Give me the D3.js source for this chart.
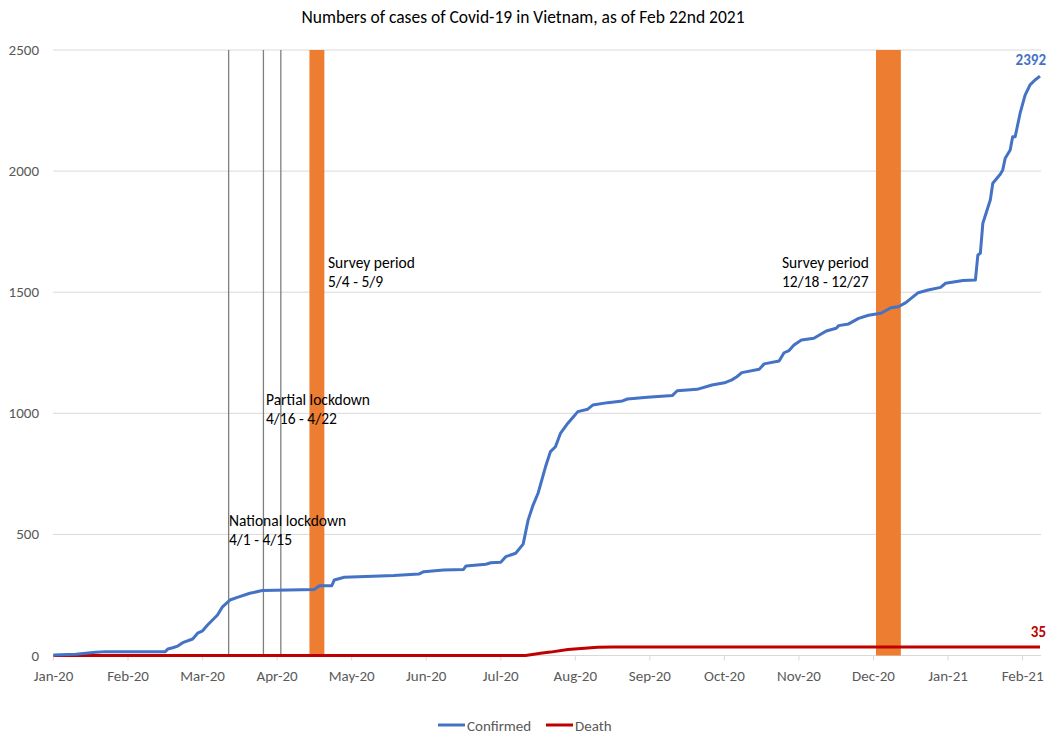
<!DOCTYPE html>
<html>
<head>
<meta charset="utf-8">
<script src="https://cdn.jsdelivr.net/npm/d3@7"></script>
<style>
  body { margin: 0; background: #fff; }
  text { font-family: Carlito, Calibri, "Liberation Sans", sans-serif; }
</style>
</head>
<body>
<svg id="chart" width="1046" height="737"></svg>
<script>
// confirmed cases
const confirmedDates = ['2020-01-22','2020-01-31','2020-02-08','2020-02-12','2020-03-07','2020-03-08','2020-03-10','2020-03-12',
  '2020-03-14','2020-03-18','2020-03-20','2020-03-22','2020-03-24','2020-03-28','2020-03-30','2020-04-02','2020-04-05',
  '2020-04-10','2020-04-15','2020-05-06','2020-05-08','2020-05-13','2020-05-14','2020-05-18','2020-06-07','2020-06-17',
  '2020-06-19','2020-06-27','2020-07-05','2020-07-06','2020-07-14','2020-07-16','2020-07-20','2020-07-22','2020-07-26',
  '2020-07-29','2020-07-31','2020-08-02','2020-08-04','2020-08-07','2020-08-09','2020-08-11','2020-08-13','2020-08-16',
  '2020-08-18','2020-08-20','2020-08-24','2020-08-26','2020-09-01','2020-09-07','2020-09-09','2020-09-17','2020-09-27',
  '2020-09-29','2020-10-07','2020-10-13','2020-10-18','2020-10-21','2020-10-23','2020-10-25','2020-11-01','2020-11-03',
  '2020-11-09','2020-11-11','2020-11-13','2020-11-15','2020-11-18','2020-11-23','2020-11-28','2020-12-02','2020-12-03',
  '2020-12-07','2020-12-11','2020-12-15','2020-12-20','2020-12-24','2020-12-27','2020-12-30','2021-01-04','2021-01-08',
  '2021-01-13','2021-01-15','2021-01-22','2021-01-27','2021-01-28','2021-01-29','2021-01-30','2021-02-02','2021-02-03',
  '2021-02-06','2021-02-07','2021-02-08','2021-02-10','2021-02-11','2021-02-12','2021-02-14','2021-02-16','2021-02-18',
  '2021-02-20','2021-02-22']
const confirmedValues = [2, 5, 13, 16, 16, 27, 32, 39,
  53, 68, 92, 102, 126, 167, 201, 229, 240,
  257, 268, 273, 288, 288, 312, 323, 330, 336,
  346, 353, 355, 370, 377, 383, 385, 408, 422,
  460, 559, 621, 670, 779, 842, 862, 917, 959,
  983, 1007, 1017, 1034, 1044, 1051, 1059, 1066, 1073,
  1093, 1099, 1117, 1126, 1138, 1151, 1168, 1182, 1204,
  1216, 1250, 1259, 1282, 1303, 1310, 1340, 1351, 1362,
  1369, 1392, 1405, 1413, 1436, 1440, 1457, 1498, 1509,
  1520, 1537, 1548, 1550, 1654, 1661, 1785, 1881, 1950,
  1987, 2005, 2053, 2087, 2142, 2142, 2239, 2314, 2356,
  2376, 2392]

// deaths
const deathDates = ['2020-01-22','2020-07-30','2020-08-05','2020-08-09','2020-08-16','2020-08-20','2020-08-28','2020-09-03','2021-02-22']
const deathValues = [0, 0, 9, 14, 25, 28, 34, 35, 35]

// lockdown markers (thin lines) and survey periods (orange bands)
const lockdownDates = ['2020-04-01', '2020-04-15', '2020-04-22']
const surveyStart = ['2020-05-04', '2020-12-18']
const surveyEnd = ['2020-05-09', '2020-12-27']

const yTicks = [0, 500, 1000, 1500, 2000, 2500]
const firstDay = '2020-01-22'
const lastDay = '2021-02-22'

const parse = d3.timeParse('%Y-%m-%d')
const svg = d3.select('#chart')

const x = d3.scaleTime()
  .domain([parse(firstDay), parse(lastDay)])
  .range([53.5, 1040])
const y = d3.scaleLinear().domain([0, 2500]).range([655.5, 50])

// title
svg.append('text')
  .attr('x', 523).attr('y', 23)
  .attr('text-anchor', 'middle')
  .style('font-size', '17.5px').style('fill', '#000')
  .text('Numbers of cases of Covid-19 in Vietnam, as of Feb 22nd 2021')

// horizontal gridlines
svg.selectAll('.grid').data(yTicks).enter().append('line')
  .attr('x1', 53).attr('x2', 1041)
  .attr('y1', (d) => y(d)).attr('y2', (d) => y(d))
  .style('stroke', '#d9d9d9').style('stroke-width', 1)

// y axis labels
svg.selectAll('.ylab').data(yTicks).enter().append('text')
  .attr('x', 39).attr('y', (d) => y(d) + 5)
  .attr('text-anchor', 'end')
  .style('font-size', '15px').style('fill', '#595959')
  .text((d) => d)

// x axis: ticks every 30 days starting at first day (category-style axis)
const xTicks = d3.range(0, 14).map((i) => d3.timeDay.offset(parse(firstDay), i * 30))
svg.selectAll('.xtick').data(xTicks).enter().append('line')
  .attr('x1', (d) => x(d)).attr('x2', (d) => x(d))
  .attr('y1', 655.5).attr('y2', 660.5)
  .style('stroke', '#d9d9d9')
svg.selectAll('.xlab').data(xTicks).enter().append('text')
  .attr('x', (d) => x(d)).attr('y', 681)
  .attr('text-anchor', 'middle')
  .style('font-size', '15px').style('fill', '#595959')
  .text((d) => d3.timeFormat('%b-%y')(d))

// survey bands
svg.selectAll('.survey').data(surveyStart).enter().append('rect')
  .attr('x', (d) => x(parse(d)))
  .attr('width', (d, i) => x(d3.timeDay.offset(parse(surveyEnd[i]), 1)) - x(parse(d)))
  .attr('y', y(2500)).attr('height', y(0) - y(2500))
  .style('fill', '#ed7d31')

// lockdown lines
svg.selectAll('.lock').data(lockdownDates).enter().append('line')
  .attr('x1', (d) => x(parse(d)) + 1.2).attr('x2', (d) => x(parse(d)) + 1.2)
  .attr('y1', y(2500)).attr('y2', y(0))
  .style('stroke', '#7f7f7f').style('stroke-width', 1.3)

// series lines
const line = d3.line().x((d) => x(d[0])).y((d) => y(d[1]))
const deathPts = deathDates.map((d, i) => [parse(d), deathValues[i]])
const confPts = confirmedDates.map((d, i) => [parse(d), confirmedValues[i]])

svg.append('path').datum(deathPts).attr('d', line)
  .style('fill', 'none').style('stroke', '#c00000').style('stroke-width', 3)
svg.append('path').datum(confPts).attr('d', line)
  .style('fill', 'none').style('stroke', '#4472c4').style('stroke-width', 3)
  .style('stroke-linejoin', 'round')

// end labels
svg.append('text')
  .attr('x', x(parse(lastDay)) + 6).attr('y', 65)
  .attr('text-anchor', 'end')
  .style('font-size', '15px').style('font-weight', 'bold').style('fill', '#4472c4')
  .text(confirmedValues[confirmedValues.length - 1])
svg.append('text')
  .attr('x', x(parse(lastDay)) + 6).attr('y', 637)
  .attr('text-anchor', 'end')
  .style('font-size', '15px').style('font-weight', 'bold').style('fill', '#c00000')
  .text(deathValues[deathValues.length - 1])

// annotations
const notes = [
  { t1: 'Survey period', t2: '5/4 - 5/9', x: 328, y: 268 },
  { t1: 'Survey period', t2: '12/18 - 12/27', x: 782, y: 268 },
  { t1: 'Partial lockdown', t2: '4/16 - 4/22', x: 266, y: 405 },
  { t1: 'National lockdown', t2: '4/1 - 4/15', x: 229, y: 526 }
]
notes.forEach((n) => {
  const t = svg.append('text').attr('x', n.x).attr('y', n.y)
    .style('font-size', '15.5px').style('fill', '#000')
  t.append('tspan').attr('x', n.x).text(n.t1)
  t.append('tspan').attr('x', n.x).attr('dy', 18.5).text(n.t2)
})

// legend
const legend = [
  { name: 'Confirmed', color: '#4472c4', x: 438 },
  { name: 'Death', color: '#c00000', x: 546 }
]
legend.forEach((l) => {
  svg.append('line')
    .attr('x1', l.x).attr('x2', l.x + 27).attr('y1', 725).attr('y2', 725)
    .style('stroke', l.color).style('stroke-width', 3)
  svg.append('text').attr('x', l.x + 29).attr('y', 730.5)
    .style('font-size', '15px').style('fill', '#595959')
    .text(l.name)
})
</script>
</body>
</html>
